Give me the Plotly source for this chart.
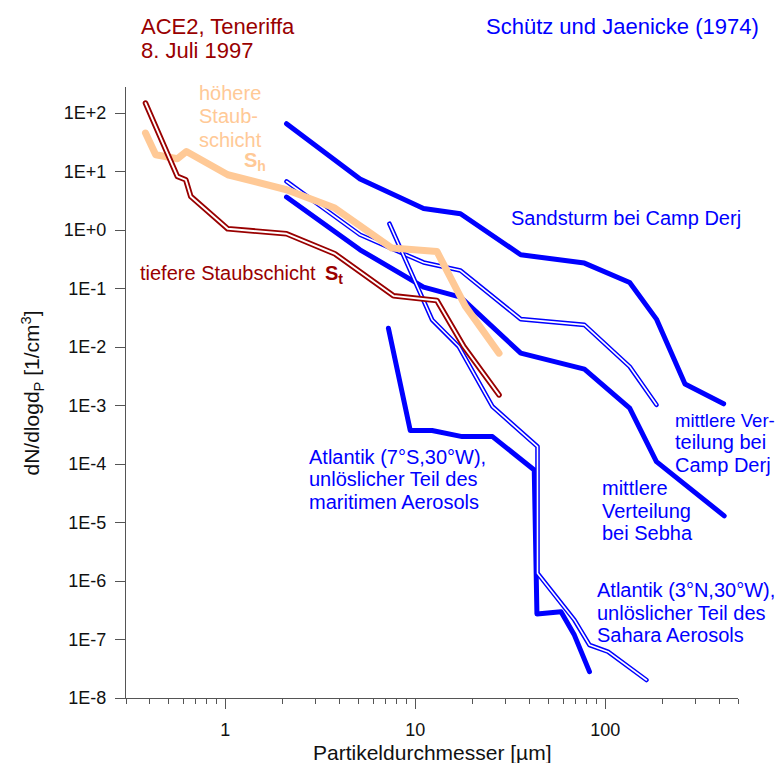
import plotly.graph_objects as go

# ---------------- data ----------------
# ACE2 Teneriffa, lower dust layer S_t
st_x = [0.38, 0.466, 0.559, 0.619, 0.658, 1.03, 2.10, 3.77, 7.68, 13.0, 18.0, 27.6]
st_y = [148, 32.7, 8.24, 7.23, 3.75, 1.05, 0.863, 0.393, 0.075, 0.0624, 0.0102, 0.00152]

# ACE2 Teneriffa, upper dust layer S_h
sh_x = [0.38, 0.43, 0.559, 0.624, 1.03, 2.10, 3.77, 7.53, 13.0, 18.4, 27.6]
sh_y = [45.5, 19.4, 16.5, 22.0, 8.81, 4.88, 2.37, 0.491, 0.430, 0.0492, 0.00785]

# Schütz und Jaenicke (1974)
sand_x = [2.10, 5.12, 11.06, 17.3, 35.9, 77.7, 134.5, 186, 263, 420]
sand_y = [65.6, 7.43, 2.34, 1.90, 0.378, 0.272, 0.127, 0.030, 0.00234, 0.00107]

derj_x = [2.10, 5.12, 11.06, 17.3, 35.9, 77.7, 134.5, 186]
derj_y = [6.76, 0.830, 0.279, 0.203, 0.030, 0.0239, 0.00463, 0.00103]

sebha_x = [2.10, 5.12, 11.06, 17.3, 35.9, 77.7, 134.5, 186, 423]
sebha_y = [3.66, 0.459, 0.1057, 0.0713, 0.00785, 0.00419, 0.000902, 0.000110, 1.30e-5]

sahara_x = [7.31, 12.26, 16.95, 25.5, 44.0, 44.0, 68.8, 82.6, 103.3, 164.8]
sahara_y = [1.28, 0.0292, 0.0102, 0.00096, 0.000199, 1.36e-6, 2.16e-7, 8.05e-8, 6.2e-8, 2.03e-8]

maritim_x = [7.22, 9.41, 12.26, 17.66, 25.5, 42.3, 43.7, 58.5, 68.8, 82.6]
maritim_y = [0.0210, 0.000373, 0.000373, 0.000294, 0.000294, 7.92e-5, 2.73e-7, 2.99e-7, 1.19e-7, 2.82e-8]

x_tickvals = [1, 10, 100]
x_ticktext = ["1", "10", "100"]
x_minor_vals = [0.3, 0.4, 0.5, 0.6, 0.7, 0.8, 0.9,
                2, 3, 4, 5, 6, 7, 8, 9,
                20, 30, 40, 50, 60, 70, 80, 90,
                200, 300, 400, 500]
y_tickvals = [1e-8, 1e-7, 1e-6, 1e-5, 1e-4, 1e-3, 1e-2, 1e-1, 1e0, 1e1, 1e2]
y_ticktext = ["1E-8", "1E-7", "1E-6", "1E-5", "1E-4", "1E-3", "1E-2", "1E-1", "1E+0", "1E+1", "1E+2"]

# ---------------- style ----------------
FONT = "Liberation Sans, Arial, Helvetica, sans-serif"
RED = "#990000"
BLUE = "#0000FF"
PEACH = "#FFC996"
AXIS = "#555555"

fig = go.Figure()

def thick(x, y, color, w):
    fig.add_trace(go.Scatter(x=x, y=y, mode="lines", line=dict(color=color, width=w),
                             showlegend=False, hoverinfo="skip"))

def double(x, y, color, w_out, w_in):
    thick(x, y, color, w_out)
    thick(x, y, "white", w_in)

thick(sand_x, sand_y, BLUE, 5)
thick(sebha_x, sebha_y, BLUE, 5)
thick(maritim_x, maritim_y, BLUE, 5)
double(derj_x, derj_y, BLUE, 4.6, 1.6)
double(sahara_x, sahara_y, BLUE, 4.6, 1.6)
thick(sh_x, sh_y, PEACH, 7)
double(st_x, st_y, RED, 5.6, 1.9)

W, H = 782, 763
L, R, T, B = 126, 44, 87, 65
PW, PH = W - L - R, H - T - B

def px(xpix):
    return (xpix - L) / PW

def py(ypix):
    return (H - B - ypix) / PH

annots = []

def txt(s, xpix, ypix, color, size=20, anchor="left"):
    annots.append(dict(text=s, x=px(xpix), y=py(ypix), xref="paper", yref="paper",
                       xanchor=anchor, yanchor="middle", showarrow=False,
                       font=dict(family=FONT, size=size, color=color), borderpad=0))

txt("ACE2, Teneriffa", 140, 27, RED, 22)
txt("8. Juli 1997", 140, 50.5, RED, 22)
txt("Schütz und Jaenicke (1974)", 485, 27, BLUE, 22)

txt("höhere", 197.5, 93, PEACH)
txt("Staub-", 197.5, 116, PEACH)
txt("schicht", 197.5, 139.5, PEACH)
txt("<b>S<sub>h</sub></b>", 243, 162, PEACH)

txt("tiefere Staubschicht", 138.5, 272.5, RED)
txt("<b>S<sub>t</sub></b>", 324, 274, RED)

txt("Sandsturm bei Camp Derj", 510, 218.3, BLUE)
txt("mittlere Ver-", 673.5, 420, BLUE, 18.5)
txt("teilung bei", 673.5, 442.3, BLUE)
txt("Camp Derj", 673.5, 464.7, BLUE)
txt("mittlere", 601, 488.3, BLUE)
txt("Verteilung", 601, 510.7, BLUE)
txt("bei Sebha", 601, 533, BLUE)
txt("Atlantik (3°N,30°W),", 596, 590.3, BLUE)
txt("unlöslicher Teil des", 596, 613, BLUE)
txt("Sahara Aerosols", 596, 635, BLUE)
txt("Atlantik (7°S,30°W),", 307.5, 457, BLUE)
txt("unlöslicher Teil des", 307.5, 479.3, BLUE)
txt("maritimen Aerosols", 307.5, 502, BLUE)

txt("Partikeldurchmesser [µm]", 432, 752, "#111111", 21, anchor="center")
annots.append(dict(text="dN/dlogd<sub>P</sub> [1/cm<sup>3</sup>]", x=px(31.5), y=py(393),
                   xref="paper", yref="paper", xanchor="center", yanchor="middle",
                   textangle=-90, showarrow=False,
                   font=dict(family=FONT, size=21, color="#111111")))

fig.update_layout(
    width=W, height=H,
    margin=dict(l=L, r=R, t=T, b=B, pad=0),
    paper_bgcolor="white", plot_bgcolor="white",
    font=dict(family=FONT, size=18, color="#111111"),
    annotations=annots,
    xaxis=dict(type="log", range=[-0.5229, 2.69897], showgrid=False, zeroline=False,
               showline=True, linecolor=AXIS, linewidth=1.2,
               tickmode="array", tickvals=x_tickvals, ticktext=x_ticktext,
               ticks="outside", ticklen=10, tickcolor=AXIS, tickwidth=1.2,
               ticklabelstandoff=5,
               minor=dict(tickmode="array", tickvals=x_minor_vals, ticks="outside",
                          ticklen=5, tickcolor=AXIS, tickwidth=1.2, showgrid=False),
               tickfont=dict(family=FONT, size=18, color="#111111")),
    yaxis=dict(type="log", range=[-8, 2.445], showgrid=False, zeroline=False,
               showline=True, linecolor=AXIS, linewidth=1.2,
               tickmode="array", tickvals=y_tickvals, ticktext=y_ticktext,
               ticks="outside", ticklen=10, tickcolor=AXIS, tickwidth=1.2,
               ticklabelstandoff=5,
               tickfont=dict(family=FONT, size=18, color="#111111")),
)

post = """
var st = document.createElement('style');
st.innerHTML = '.scatterlayer path.js-line{stroke-linejoin:round !important;stroke-linecap:round !important;}';
document.head.appendChild(st);
"""

fig.write_html("out.html", post_script=post)
